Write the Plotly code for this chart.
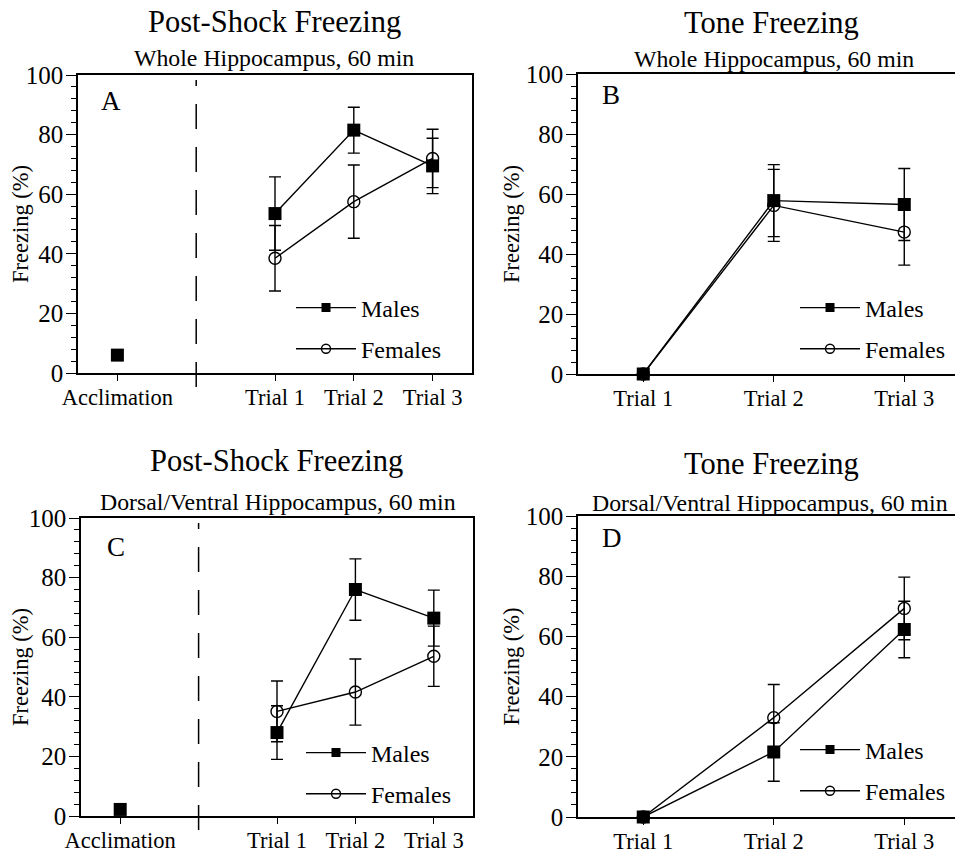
import plotly.graph_objects as go

W, H = 963, 852
OFF = 8  # the page body adds an 8px margin; place everything relative to the screen
FONT = "Liberation Serif"

# ---------------- data ----------------
post_categories = ["Acclimation", "Trial 1", "Trial 2", "Trial 3"]
tone_categories = ["Trial 1", "Trial 2", "Trial 3"]

# Panel A: Post-shock, whole hippocampus
A_males_accl = 6.0
A_males = [53.5, 81.5, 69.5]
A_males_err = [12.3, 7.7, 9.3]
A_females = [38.5, 57.5, 72.0]
A_females_err = [11.0, 12.3, 9.8]

# Panel B: Tone, whole hippocampus
B_males = [0.0, 57.8, 56.5]
B_males_err = [0.0, 12.0, 12.0]
B_females = [0.0, 56.2, 47.3]
B_females_err = [0.0, 12.0, 11.0]

# Panel C: Post-shock, dorsal/ventral hippocampus
C_males_accl = 2.2
C_males = [28.0, 76.0, 66.4]
C_males_err = [9.0, 10.3, 9.4]
C_females = [35.1, 41.6, 53.6]
C_females_err = [10.2, 11.1, 10.1]

# Panel D: Tone, dorsal/ventral hippocampus
D_males = [0.0, 21.6, 62.3]
D_males_err = [0.0, 9.7, 9.4]
D_females = [0.0, 33.0, 69.3]
D_females_err = [0.0, 11.0, 10.4]

titles = ["Post-Shock Freezing", "Tone Freezing", "Post-Shock Freezing", "Tone Freezing"]
subtitles = ["Whole Hippocampus, 60 min", "Whole Hippocampus, 60 min",
             "Dorsal/Ventral Hippocampus, 60 min", "Dorsal/Ventral Hippocampus, 60 min"]
letters = ["A", "B", "C", "D"]
y_title = "Freezing (%)"
series_names = ["Males", "Females"]

# ---------------- layout geometry (screen pixels -> paper) ----------------
def PX(x):
    return (x - OFF) / W

def PY(y):
    return 1 - (y - OFF) / H

def dom_x(a, b):
    return [PX(a), min(PX(b), 1.0)]

def dom_y(top, bottom):
    return [PY(bottom), PY(top)]

panels = [
    dict(xd=dom_x(78, 472), yd=dom_y(75, 373), kind="post"),
    dict(xd=dom_x(578, 963), yd=dom_y(74, 374), kind="tone"),
    dict(xd=dom_x(81, 473), yd=dom_y(518, 816), kind="post"),
    dict(xd=dom_x(578, 963), yd=dom_y(516, 817), kind="tone"),
]

fig = go.Figure()

LW = 1.4
line_style = dict(color="black", width=LW)
err_kw = dict(type="data", visible=True, color="black", thickness=LW, width=6)
sq_marker = dict(symbol="square", size=13, color="black", line=dict(width=0))
ci_marker = dict(symbol="circle-open", size=12, color="black", line=dict(color="black", width=LW))
sq_leg = dict(symbol="square", size=9, color="black", line=dict(width=0))
ci_leg = dict(symbol="circle-open", size=9, color="black", line=dict(color="black", width=LW))

post_data = {0: (A_males_accl, A_males, A_males_err, A_females, A_females_err),
             2: (C_males_accl, C_males, C_males_err, C_females, C_females_err)}
tone_data = {1: (B_males, B_males_err, B_females, B_females_err),
             3: (D_males, D_males_err, D_females, D_females_err)}

legend_names = ["legend", "legend2", "legend3", "legend4"]

for i, p in enumerate(panels):
    ax = "" if i == 0 else str(i + 1)
    xa, ya = "x" + ax, "y" + ax
    lg = legend_names[i]
    if p["kind"] == "post":
        accl, m, me, f, fe = post_data[i]
        trial_x = [post_categories.index(c) + 1 for c in post_categories[1:]]
        accl_x = post_categories.index("Acclimation")
    else:
        m, me, f, fe = tone_data[i]
        trial_x = [tone_categories.index(c) for c in tone_categories]
    # females drawn first so male squares sit on top
    fig.add_trace(go.Scatter(x=trial_x, y=f, mode="lines+markers", name=series_names[1],
                             line=line_style, marker=ci_marker, showlegend=False,
                             error_y=dict(array=fe, **err_kw),
                             xaxis=xa, yaxis=ya, cliponaxis=False))
    fig.add_trace(go.Scatter(x=trial_x, y=m, mode="lines+markers", name=series_names[0],
                             line=line_style, marker=sq_marker, showlegend=False,
                             error_y=dict(array=me, **err_kw),
                             xaxis=xa, yaxis=ya, cliponaxis=False))
    if p["kind"] == "post":
        fig.add_trace(go.Scatter(x=[accl_x], y=[accl], mode="markers", marker=sq_marker,
                                 name=series_names[0], showlegend=False,
                                 xaxis=xa, yaxis=ya, cliponaxis=False))
    # legend entries (smaller symbols as in the original key)
    fig.add_trace(go.Scatter(x=[None], y=[None], mode="lines+markers", name=series_names[0],
                             line=line_style, marker=sq_leg, xaxis=xa, yaxis=ya,
                             legend=lg, legendgroup="m" + ax, legendrank=1))
    fig.add_trace(go.Scatter(x=[None], y=[None], mode="lines+markers", name=series_names[1],
                             line=line_style, marker=ci_leg, xaxis=xa, yaxis=ya,
                             legend=lg, legendgroup="f" + ax, legendrank=2))

layout = dict(
    width=W, height=H, margin=dict(l=0, r=0, t=0, b=0, autoexpand=False),
    paper_bgcolor="white", plot_bgcolor="white",
    font=dict(family=FONT, color="black", size=22),
    shapes=[], annotations=[],
)

for i, p in enumerate(panels):
    ax = "" if i == 0 else str(i + 1)
    if p["kind"] == "post":
        tickvals = [0] + [post_categories.index(c) + 1 for c in post_categories[1:]]
        ticktext = post_categories
        xr = [-0.5, 4.5]
        mirror = True
    else:
        tickvals = [tone_categories.index(c) for c in tone_categories]
        ticktext = tone_categories
        xr = [-0.5, 2.45]
        mirror = False
    layout["xaxis" + ax] = dict(
        domain=p["xd"], range=xr, anchor="y" + ax, tickmode="array",
        tickvals=tickvals, ticktext=ticktext, ticks="outside", ticklen=6, tickwidth=1.1,
        tickcolor="black", showline=True, linecolor="black", linewidth=1.6, mirror=True,
        showgrid=False, zeroline=False, tickfont=dict(size=22.5, family=FONT),
        ticklabelstandoff=-3, automargin=False, fixedrange=True,
    )
    layout["yaxis" + ax] = dict(
        domain=p["yd"], range=[0, 100], anchor="x" + ax, tickmode="linear", tick0=0, dtick=20,
        ticks="outside", ticklen=10, tickwidth=1.3, tickcolor="black",
        minor=dict(ticks="outside", ticklen=5, tickwidth=1.0, tickcolor="black", dtick=4, showgrid=False),
        showline=True, linecolor="black", linewidth=1.6, mirror=mirror,
        showgrid=False, zeroline=False, tickfont=dict(size=25, family=FONT),
        ticklabelstandoff=-2,
        title=dict(text=y_title, font=dict(size=22.5, family=FONT), standoff=0),
        automargin=False, fixedrange=True,
    )
    # legend
    marker_cx = [328, 832, 338, 832][i]
    ly0 = [308, 308, 753, 750][i]
    layout[legend_names[i]] = dict(
        x=PX(marker_cx - 37), y=PY(ly0 - 22.5), xanchor="left", yanchor="top",
        bgcolor="rgba(0,0,0,0)", font=dict(size=24, family=FONT),
        tracegroupgap=7, itemwidth=60,
    )
    # titles
    cx = [274, 771, 276, 771][i]
    ty = [22, 23, 461, 464][i]
    sx = [274, 774, 278, 770][i]
    sy = [58, 59, 502, 503][i]
    layout["annotations"].append(dict(text=titles[i], x=PX(cx), y=PY(ty), xref="paper", yref="paper",
                                      showarrow=False, xanchor="center", yanchor="middle",
                                      borderpad=0, font=dict(size=30.5, family=FONT)))
    layout["annotations"].append(dict(text=subtitles[i], x=PX(sx), y=PY(sy),
                                      xref="paper", yref="paper", showarrow=False,
                                      xanchor="center", yanchor="middle", borderpad=0,
                                      font=dict(size=23.8, family=FONT)))
    lcx = [111, 611, 116, 612][i]
    lcy = [101, 95, 547, 538][i]
    layout["annotations"].append(dict(text=letters[i], x=PX(lcx), y=PY(lcy), xref="paper", yref="paper",
                                      showarrow=False, xanchor="center", yanchor="middle",
                                      font=dict(size=27, family=FONT)))
    if p["kind"] == "post":
        y0d, y1d = p["yd"]
        layout["shapes"].append(dict(type="line", xref="x" + ax, yref="paper",
                                     x0=1, x1=1, y0=y0d - 14 / H, y1=y1d - 5 / H,
                                     line=dict(color="black", width=1.5, dash="25px,18px")))

fig.update_layout(**layout)
fig.write_html("out.html")
